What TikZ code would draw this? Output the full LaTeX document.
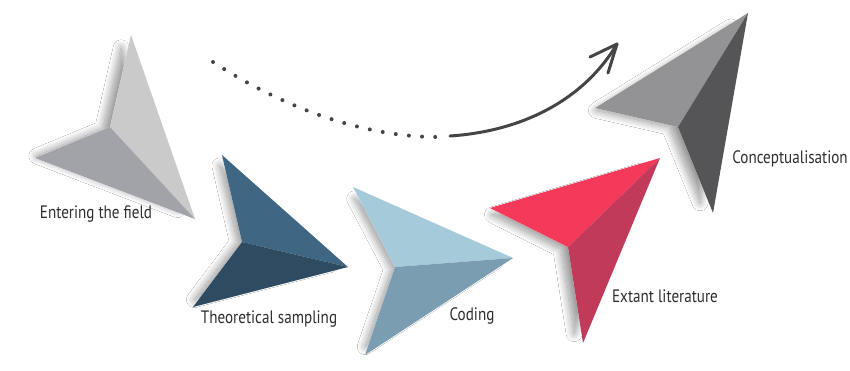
\documentclass[tikz,border=0pt]{standalone}
\usepackage{fontspec}
\setmainfont{PT Sans}[FakeStretch=0.84]
\usetikzlibrary{shadows.blur}
\definecolor{txt}{HTML}{2E2E2E}
\definecolor{curve}{HTML}{454545}
\definecolor{greyUp}{HTML}{CACACA}
\definecolor{greyLo}{HTML}{A2A3A9}
\definecolor{navyUp}{HTML}{3F6682}
\definecolor{navyLo}{HTML}{2F4B62}
\definecolor{skyUp}{HTML}{A5CBDB}
\definecolor{skyLo}{HTML}{7B9DB1}
\definecolor{redUp}{HTML}{F5395A}
\definecolor{redLo}{HTML}{C13A5A}
\definecolor{slateUp}{HTML}{939395}
\definecolor{slateLo}{HTML}{555557}
\tikzset{
  outline/.style={fill=white, blur shadow={shadow xshift=-9pt, shadow yshift=-2pt,
      shadow scale=0.88, shadow blur radius=9pt, shadow opacity=42, shadow blur steps=18}},
  face/.style={line join=round},
  label/.style={text=txt, font=\fontsize{18}{19}\selectfont, inner sep=0pt},
}
\begin{document}
\begin{tikzpicture}[x=1pt, y=-1pt]
\useasboundingbox (0,0) rectangle (850,370);
\fill[white] (0,0) rectangle (850,370);

% --- corner points of the five folded arrows
\coordinate (a1t) at (131,35);  \coordinate (a1l) at (35,158);
\coordinate (a1b) at (195,219); \coordinate (a1i) at (110,127);
\coordinate (a2t) at (222,155); \coordinate (a2r) at (348,267);
\coordinate (a2b) at (193,307); \coordinate (a2i) at (242,242);
\coordinate (a3t) at (353,187); \coordinate (a3r) at (513,258);
\coordinate (a3b) at (365,355); \coordinate (a3i) at (395,267);
\coordinate (a4l) at (490,208); \coordinate (a4t) at (660,158);
\coordinate (a4b) at (583,343); \coordinate (a4i) at (568,247);
\coordinate (a5l) at (595,108); \coordinate (a5t) at (748,13);
\coordinate (a5b) at (713,213); \coordinate (a5i) at (678,127);

% --- arrow 1: Entering the field
\path[outline] (a1t) -- (a1b) -- (a1l) -- (a1i) -- cycle;
\fill[face, greyUp] (a1t) -- (a1i) -- (a1b) -- cycle;
\fill[face, greyLo] (a1l) -- (a1i) -- (a1b) -- cycle;

% --- arrow 2: Theoretical sampling
\path[outline] (a2t) -- (a2r) -- (a2b) -- (a2i) -- cycle;
\fill[face, navyUp] (a2t) -- (a2i) -- (a2r) -- cycle;
\fill[face, navyLo] (a2b) -- (a2i) -- (a2r) -- cycle;

% --- arrow 3: Coding
\path[outline] (a3t) -- (a3r) -- (a3b) -- (a3i) -- cycle;
\fill[face, skyUp] (a3t) -- (a3i) -- (a3r) -- cycle;
\fill[face, skyLo] (a3b) -- (a3i) -- (a3r) -- cycle;

% --- arrow 4: Extant literature
\path[outline] (a4l) -- (a4t) -- (a4b) -- (a4i) -- cycle;
\fill[face, redUp] (a4l) -- (a4i) -- (a4t) -- cycle;
\fill[face, redLo] (a4b) -- (a4i) -- (a4t) -- cycle;

% --- arrow 5: Conceptualisation
\path[outline] (a5l) -- (a5t) -- (a5b) -- (a5i) -- cycle;
\fill[face, slateUp] (a5l) -- (a5i) -- (a5t) -- cycle;
\fill[face, slateLo] (a5b) -- (a5i) -- (a5t) -- cycle;

% --- labels
\node[label] (l1) at (96,214) {Entering the field};
\node[label] (l2) at (269,319) {Theoretical sampling};
\node[label] (l3) at (472,316) {Coding};
\node[label] (l4) at (665,296) {Extant literature};
\node[label] (l5) at (790,159) {Conceptualisation};

% --- dotted then solid sweep ending in an open chevron
\coordinate (dotA) at (213,62);
\coordinate (dotB) at (437,137);
\coordinate (solA) at (450,136);
\coordinate (tip)  at (617,44);
\coordinate (barb1) at (590,57);
\coordinate (barb2) at (608,73);
\draw[curve, line width=4pt, line cap=round, dash pattern=on 0pt off 13.2pt]
  (dotA) .. controls (290,112) and (370,137) .. (dotB);
\draw[curve, line width=3pt, line cap=round]
  (solA) .. controls (525,131) and (585,98) .. (tip);
\draw[curve, line width=3pt, line cap=round, line join=round]
  (barb1) -- (tip) -- (barb2);
\end{tikzpicture}
\end{document}
